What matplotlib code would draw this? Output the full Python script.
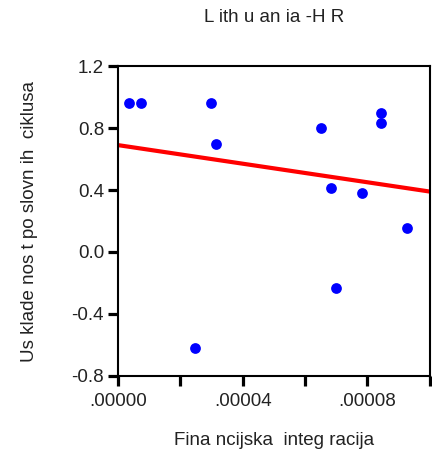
""" Lithuania-HR: scatter of business cycle sync vs financial integration """
import matplotlib
matplotlib.use('Agg')
import matplotlib.pyplot as plt
from matplotlib.ticker import FuncFormatter, MultipleLocator

fin_integration = [0.0000036, 0.0000073, 0.0000299, 0.0000313, 0.0000248, 0.0000652,
                   0.0000684, 0.0000700, 0.0000783, 0.0000845, 0.0000845, 0.0000928]
cycle_sync = [0.96, 0.96, 0.96, 0.70, -0.62, 0.80, 0.41, -0.235, 0.38, 0.895, 0.83, 0.155]

fit_x = [0.0, 0.0001]
fit_y = [0.69, 0.39]

title = 'L ith u an ia -H R'
x_label = 'Fina ncijska  integ racija'
y_label = 'Us klade nos t po slovn ih  ciklusa'

plt.rcParams['font.family'] = ['Liberation Sans', 'DejaVu Sans']
text_color = '#222222'
fs = 13.5

fig = plt.figure(figsize=(4.32, 4.59), dpi=100)
ax = fig.add_axes([0.273, 0.181, 0.722, 0.675])

ax.plot(fit_x, fit_y, c='#ff0000', lw=3, zorder=2)
ax.scatter(fin_integration, cycle_sync, c='#0000ff', s=60, zorder=3, linewidths=0)

ax.set_xlim(0, 0.0001)
ax.set_ylim(-0.8, 1.2)
ax.xaxis.set_major_locator(MultipleLocator(0.00002))
ax.yaxis.set_major_locator(MultipleLocator(0.4))


def x_fmt(v, pos):
    i = int(round(v / 0.00002))
    if i % 2 == 1 or i == 5:
        return ''
    return ('%.5f' % v).lstrip('0')


ax.xaxis.set_major_formatter(FuncFormatter(x_fmt))
ax.yaxis.set_major_formatter(FuncFormatter(lambda v, p: '%.1f' % v))

for s in ax.spines.values():
    s.set_linewidth(1.5)
ax.tick_params(direction='out', length=7, width=2.3, labelsize=fs, colors='black',
               labelcolor=text_color, pad=3)
ax.tick_params(axis='x', pad=5)

ax.set_title(title, fontsize=fs, color=text_color, pad=31.5)
ax.set_xlabel(x_label, fontsize=fs, color=text_color, labelpad=16)
ax.set_ylabel(y_label, fontsize=fs, color=text_color, labelpad=24)

fig.savefig('out.png', dpi=100)
